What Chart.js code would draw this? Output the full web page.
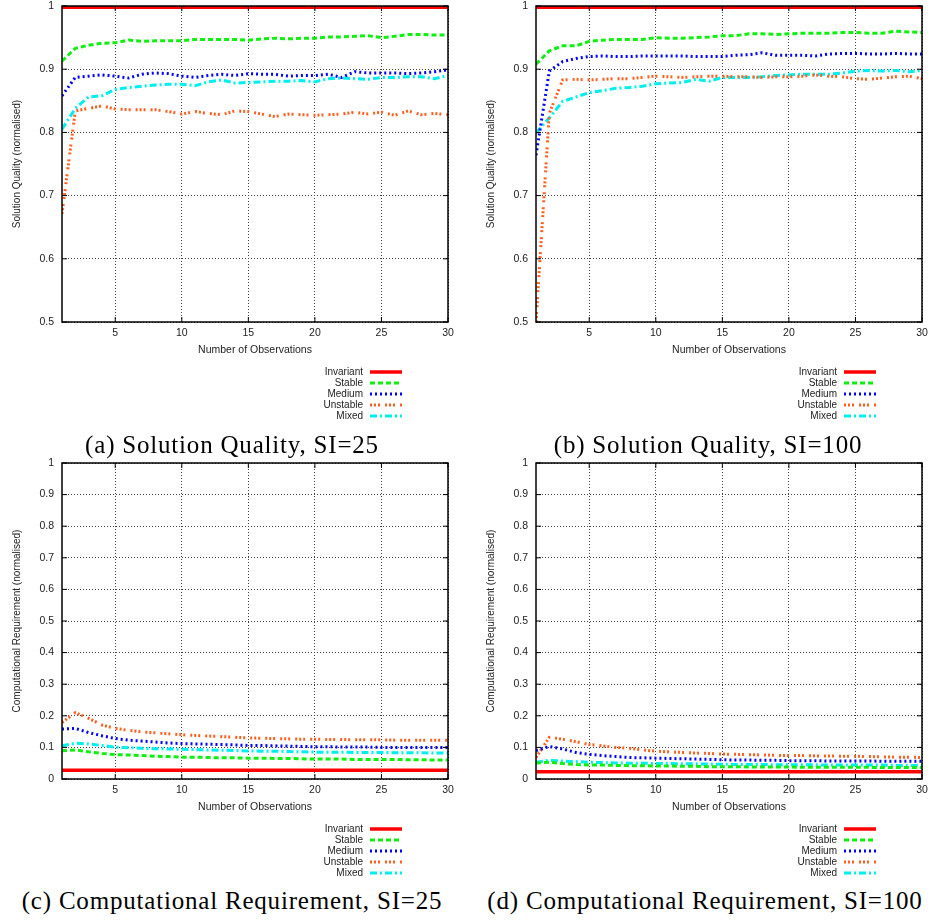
<!DOCTYPE html>
<html>
<head>
<meta charset="utf-8">
<script src="https://cdn.jsdelivr.net/npm/chart.js@4.4.0/dist/chart.umd.min.js"></script>
<style>
  body { margin: 0; background: #fff; width: 933px; height: 920px; position: relative; overflow: hidden; }
  .panel { position: absolute; width: 459px; height: 430px; }
  .caption { position: absolute; transform: translateX(-50%); white-space: nowrap;
             font-family: "Liberation Serif", "Times New Roman", serif; font-size: 25px; letter-spacing: 0.8px;
             line-height: 28px; color: #000; }
</style>
</head>
<body>
<div class="panel" style="left:0;top:0"><canvas id="qualityChart25"></canvas></div>
<div class="panel" style="left:474px;top:0"><canvas id="qualityChart100"></canvas></div>
<div class="panel" style="left:0;top:457px"><canvas id="compChart25"></canvas></div>
<div class="panel" style="left:474px;top:457px"><canvas id="compChart100"></canvas></div>

<div class="caption" style="left:232px;top:431px">(a) Solution Quality, SI=25</div>
<div class="caption" style="left:708px;top:431px">(b) Solution Quality, SI=100</div>
<div class="caption" style="left:232px;top:887px">(c) Computational Requirement, SI=25</div>
<div class="caption" style="left:705px;top:887px">(d) Computational Requirement, SI=100</div>

<script>
const observations = [1, 2, 3, 4, 5, 6, 7, 8, 9, 10, 11, 12, 13, 14, 15,
  16, 17, 18, 19, 20, 21, 22, 23, 24, 25, 26, 27, 28, 29, 30];
const xTicks = [5, 10, 15, 20, 25, 30];
const qualityTicks = [0.5, 0.6, 0.7, 0.8, 0.9, 1];
const compTicks = [0, 0.1, 0.2, 0.3, 0.4, 0.5, 0.6, 0.7, 0.8, 0.9, 1];
const seriesNames = ['Invariant', 'Stable', 'Medium', 'Unstable', 'Mixed'];

// Solution quality, SI=25
const qualityInvariant25 = [0.998, 0.998, 0.998, 0.998, 0.998, 0.998, 0.998, 0.998, 0.998, 0.998,
  0.998, 0.998, 0.998, 0.998, 0.998, 0.998, 0.998, 0.998, 0.998, 0.998,
  0.998, 0.998, 0.998, 0.998, 0.998, 0.998, 0.998, 0.998, 0.998, 0.998];
const qualityStable25 = [0.913, 0.933, 0.938, 0.941, 0.942, 0.946, 0.944, 0.945, 0.945, 0.945,
  0.947, 0.947, 0.947, 0.947, 0.946, 0.948, 0.949, 0.948, 0.949, 0.949,
  0.951, 0.951, 0.952, 0.953, 0.950, 0.952, 0.955, 0.955, 0.954, 0.954];
const qualityMedium25 = [0.858, 0.887, 0.889, 0.891, 0.889, 0.886, 0.892, 0.894, 0.893, 0.889,
  0.887, 0.890, 0.892, 0.890, 0.893, 0.892, 0.892, 0.889, 0.890, 0.890,
  0.892, 0.887, 0.896, 0.894, 0.894, 0.894, 0.893, 0.894, 0.896, 0.899];
const qualityUnstable25 = [0.671, 0.834, 0.838, 0.842, 0.837, 0.836, 0.836, 0.836, 0.833, 0.829,
  0.833, 0.830, 0.828, 0.834, 0.833, 0.829, 0.825, 0.829, 0.828, 0.827,
  0.828, 0.829, 0.832, 0.829, 0.832, 0.827, 0.834, 0.828, 0.830, 0.828];
const qualityMixed25 = [0.805, 0.838, 0.856, 0.858, 0.868, 0.871, 0.873, 0.875, 0.876, 0.876,
  0.874, 0.880, 0.883, 0.878, 0.879, 0.880, 0.881, 0.881, 0.882, 0.880,
  0.885, 0.886, 0.885, 0.884, 0.887, 0.887, 0.888, 0.888, 0.885, 0.890];

// Solution quality, SI=100
const qualityInvariant100 = [0.998, 0.998, 0.998, 0.998, 0.998, 0.998, 0.998, 0.998, 0.998, 0.998,
  0.998, 0.998, 0.998, 0.998, 0.998, 0.998, 0.998, 0.998, 0.998, 0.998,
  0.998, 0.998, 0.998, 0.998, 0.998, 0.998, 0.998, 0.998, 0.998, 0.998];
const qualityStable100 = [0.908, 0.929, 0.937, 0.937, 0.944, 0.946, 0.947, 0.947, 0.947, 0.950,
  0.949, 0.949, 0.950, 0.951, 0.953, 0.953, 0.956, 0.956, 0.955, 0.956,
  0.957, 0.957, 0.957, 0.958, 0.958, 0.957, 0.957, 0.960, 0.959, 0.958];
const qualityMedium100 = [0.764, 0.897, 0.912, 0.917, 0.920, 0.921, 0.920, 0.920, 0.921, 0.921,
  0.921, 0.921, 0.920, 0.920, 0.920, 0.922, 0.923, 0.926, 0.922, 0.922,
  0.922, 0.921, 0.924, 0.925, 0.925, 0.924, 0.924, 0.925, 0.924, 0.924];
const qualityUnstable100 = [0.500, 0.830, 0.883, 0.884, 0.883, 0.884, 0.885, 0.885, 0.887, 0.889,
  0.888, 0.887, 0.888, 0.889, 0.889, 0.888, 0.888, 0.887, 0.888, 0.888,
  0.889, 0.891, 0.889, 0.888, 0.885, 0.884, 0.886, 0.888, 0.889, 0.885];
const qualityMixed100 = [0.799, 0.823, 0.849, 0.856, 0.863, 0.866, 0.870, 0.871, 0.873, 0.877,
  0.878, 0.879, 0.884, 0.881, 0.887, 0.887, 0.887, 0.888, 0.890, 0.891,
  0.892, 0.892, 0.892, 0.894, 0.897, 0.898, 0.897, 0.898, 0.896, 0.898];

// Computational requirement, SI=25
const compInvariant25 = [0.028, 0.028, 0.028, 0.028, 0.028, 0.028, 0.028, 0.028, 0.028, 0.028,
  0.028, 0.028, 0.028, 0.028, 0.028, 0.028, 0.028, 0.028, 0.028, 0.028,
  0.028, 0.028, 0.028, 0.028, 0.028, 0.028, 0.028, 0.028, 0.028, 0.028];
const compStable25 = [0.089, 0.092, 0.086, 0.081, 0.077, 0.076, 0.074, 0.072, 0.071, 0.069,
  0.069, 0.068, 0.067, 0.067, 0.066, 0.066, 0.065, 0.065, 0.064, 0.063,
  0.063, 0.063, 0.062, 0.062, 0.062, 0.062, 0.061, 0.061, 0.060, 0.060];
const compMedium25 = [0.158, 0.160, 0.147, 0.137, 0.128, 0.123, 0.120, 0.117, 0.114, 0.112,
  0.111, 0.110, 0.109, 0.108, 0.106, 0.106, 0.105, 0.104, 0.103, 0.102,
  0.102, 0.101, 0.101, 0.101, 0.100, 0.100, 0.100, 0.100, 0.100, 0.100];
const compUnstable25 = [0.179, 0.210, 0.192, 0.171, 0.160, 0.154, 0.149, 0.146, 0.143, 0.140,
  0.138, 0.136, 0.134, 0.132, 0.130, 0.129, 0.128, 0.127, 0.126, 0.126,
  0.125, 0.125, 0.124, 0.124, 0.124, 0.123, 0.123, 0.123, 0.123, 0.123];
const compMixed25 = [0.105, 0.113, 0.111, 0.106, 0.101, 0.099, 0.097, 0.096, 0.095, 0.094,
  0.093, 0.092, 0.091, 0.090, 0.089, 0.088, 0.088, 0.087, 0.086, 0.085,
  0.085, 0.085, 0.084, 0.084, 0.084, 0.083, 0.083, 0.083, 0.082, 0.082];

// Computational requirement, SI=100
const compInvariant100 = [0.023, 0.023, 0.023, 0.023, 0.023, 0.023, 0.023, 0.023, 0.023, 0.023,
  0.023, 0.023, 0.023, 0.023, 0.023, 0.023, 0.023, 0.023, 0.023, 0.023,
  0.023, 0.023, 0.023, 0.023, 0.023, 0.023, 0.023, 0.023, 0.023, 0.023];
const compStable100 = [0.051, 0.053, 0.049, 0.046, 0.044, 0.044, 0.043, 0.042, 0.042, 0.041,
  0.041, 0.040, 0.040, 0.039, 0.039, 0.039, 0.038, 0.038, 0.038, 0.038,
  0.037, 0.037, 0.037, 0.037, 0.037, 0.037, 0.036, 0.036, 0.036, 0.036];
const compMedium100 = [0.090, 0.103, 0.095, 0.084, 0.078, 0.074, 0.071, 0.068, 0.067, 0.066,
  0.065, 0.064, 0.063, 0.062, 0.061, 0.060, 0.060, 0.059, 0.059, 0.058,
  0.058, 0.058, 0.057, 0.057, 0.057, 0.057, 0.056, 0.056, 0.056, 0.056];
const compUnstable100 = [0.068, 0.132, 0.126, 0.118, 0.109, 0.105, 0.100, 0.097, 0.092, 0.088,
  0.086, 0.084, 0.082, 0.081, 0.079, 0.078, 0.077, 0.076, 0.075, 0.074,
  0.074, 0.073, 0.073, 0.072, 0.072, 0.071, 0.070, 0.069, 0.069, 0.068];
const compMixed100 = [0.053, 0.059, 0.057, 0.055, 0.053, 0.052, 0.051, 0.050, 0.050, 0.049,
  0.049, 0.048, 0.048, 0.047, 0.047, 0.046, 0.046, 0.046, 0.045, 0.045,
  0.045, 0.045, 0.044, 0.044, 0.044, 0.044, 0.044, 0.043, 0.043, 0.043];

// line styles, same order as seriesNames
const lineColors = ['#ff0000', '#11ee11', '#0000ff', '#ff6020', '#00eeee'];
const lineDashes = [[], [5, 3], [2, 3], [2, 2, 2, 2, 2, 5], [7, 3, 2, 3]];

Chart.defaults.font.family = '"Liberation Sans", Arial, sans-serif';
Chart.defaults.font.size = 10.5;
Chart.defaults.color = '#222';

// black box with inward tick marks, drawn over the lines like gnuplot does
const framePlugin = {
  id: 'frame',
  afterDatasetsDraw(chart) {
    const { ctx, chartArea: a, scales } = chart;
    ctx.save();
    ctx.strokeStyle = '#000';
    ctx.lineWidth = 1;
    ctx.beginPath();
    scales.y.ticks.forEach(t => {
      const y = scales.y.getPixelForValue(t.value);
      ctx.moveTo(a.left, y); ctx.lineTo(a.left + 5, y);
      ctx.moveTo(a.right, y); ctx.lineTo(a.right - 5, y);
    });
    scales.x.ticks.forEach(t => {
      const x = scales.x.getPixelForValue(t.value);
      ctx.moveTo(x, a.bottom); ctx.lineTo(x, a.bottom - 5);
      ctx.moveTo(x, a.top); ctx.lineTo(x, a.top + 5);
    });
    ctx.stroke();
    ctx.lineWidth = 1.5;
    ctx.strokeRect(a.left, a.top, a.right - a.left, a.bottom - a.top);
    ctx.restore();
  }
};

// key under the x axis title: label on the left, line sample on the right
const keyPlugin = {
  id: 'key',
  afterDraw(chart) {
    const { ctx, chartArea: a } = chart;
    ctx.save();
    ctx.font = '10px "Liberation Sans", Arial, sans-serif';
    ctx.textAlign = 'right';
    ctx.textBaseline = 'middle';
    chart.data.datasets.forEach((ds, i) => {
      const x = a.left + 301;
      const y = a.bottom + 50 + i * 11;
      ctx.fillStyle = '#222';
      ctx.fillText(ds.label, x, y);
      ctx.strokeStyle = ds.borderColor;
      ctx.lineWidth = ds.borderWidth;
      ctx.setLineDash(ds.borderDash);
      ctx.beginPath();
      ctx.moveTo(x + 7, y);
      ctx.lineTo(x + 39, y);
      ctx.stroke();
    });
    ctx.restore();
  }
};

function makeChart(canvasId, yTitle, yTicks, seriesValues) {
  const datasets = seriesValues.map((values, i) => ({
    label: seriesNames[i],
    data: observations.map((x, j) => ({ x: x, y: values[j] })),
    borderColor: lineColors[i],
    borderDash: lineDashes[i],
    borderWidth: i === 0 ? 3.5 : 3,
    pointRadius: 0,
    tension: 0
  }));

  return new Chart(document.getElementById(canvasId), {
    type: 'line',
    data: { datasets: datasets },
    options: {
      animation: false,
      responsive: true,
      maintainAspectRatio: false,
      layout: { padding: { top: 6, right: 11, bottom: 72, left: 0 } },
      plugins: { legend: { display: false }, tooltip: { enabled: false } },
      scales: {
        x: {
          type: 'linear',
          min: 1,
          max: 30,
          afterBuildTicks: s => { s.ticks = xTicks.map(v => ({ value: v })); },
          afterFit: s => { s.height = 36; s.paddingLeft = 0; s.paddingRight = 0; },
          grid: { color: '#444', lineWidth: 1, drawTicks: false },
          border: { display: false, dash: [1, 2] },
          ticks: { padding: 5, maxRotation: 0, callback: v => String(v) },
          title: { display: true, text: 'Number of Observations', padding: { top: 0, bottom: 2 } }
        },
        y: {
          min: yTicks[0],
          max: yTicks[yTicks.length - 1],
          afterBuildTicks: s => { s.ticks = yTicks.map(v => ({ value: v })); },
          afterFit: s => { s.width = 62; s.paddingTop = 0; s.paddingBottom = 0; },
          grid: { color: '#444', lineWidth: 1, drawTicks: false },
          border: { display: false, dash: [1, 2] },
          ticks: { padding: 8, callback: v => String(v) },
          title: { display: true, text: yTitle, font: { size: 10 }, padding: { top: 11, bottom: 0 } }
        }
      }
    },
    plugins: [framePlugin, keyPlugin]
  });
}

makeChart('qualityChart25', 'Solution Quality (normalised)', qualityTicks,
  [qualityInvariant25, qualityStable25, qualityMedium25, qualityUnstable25, qualityMixed25]);
makeChart('qualityChart100', 'Solution Quality (normalised)', qualityTicks,
  [qualityInvariant100, qualityStable100, qualityMedium100, qualityUnstable100, qualityMixed100]);
makeChart('compChart25', 'Computational Requirement (normalised)', compTicks,
  [compInvariant25, compStable25, compMedium25, compUnstable25, compMixed25]);
makeChart('compChart100', 'Computational Requirement (normalised)', compTicks,
  [compInvariant100, compStable100, compMedium100, compUnstable100, compMixed100]);
</script>
</body>
</html>
